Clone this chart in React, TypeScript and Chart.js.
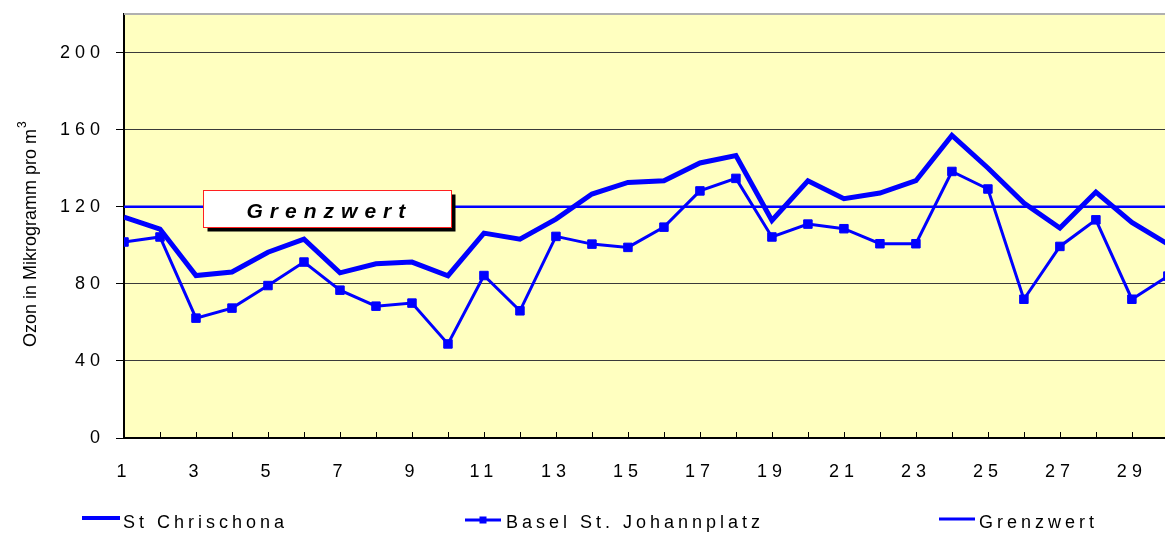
import React, { useEffect, useRef } from 'react';
import { Chart, registerables } from 'chart.js';

Chart.register(...registerables);

// ---------- data ----------
const days = [1, 2, 3, 4, 5, 6, 7, 8, 9, 10, 11, 12, 13, 14, 15, 16, 17, 18, 19, 20, 21, 22, 23, 24, 25, 26, 27, 28, 29, 30];
const stChrischona = [114.6, 108.4, 84.3, 86.1, 96.4, 103.2, 85.7, 90.4, 91.3, 84.2, 106.3, 103.2, 113.6, 126.6, 132.6, 133.5, 142.7, 146.5, 112.9, 133.5, 124.2, 127.1, 133.5, 157, 140.1, 121.9, 108.9, 127.6, 111.9, 100.6];
const baselStJohannplatz = [101.7, 104.3, 62.2, 67.4, 79.1, 91.3, 76.7, 68.4, 70, 48.8, 84.3, 66, 104.6, 100.6, 98.9, 109.4, 128.2, 134.7, 104.3, 111, 108.6, 100.8, 100.8, 138.3, 129.2, 72, 99.4, 113.2, 72, 84];
const grenzwert = [120, 120, 120, 120, 120, 120, 120, 120, 120, 120, 120, 120, 120, 120, 120, 120, 120, 120, 120, 120, 120, 120, 120, 120, 120, 120, 120, 120, 120, 120];
const yTickValues = [0, 40, 80, 120, 160, 200];
const seriesNames = ['St Chrischona', 'Basel St. Johannplatz', 'Grenzwert'];
const annotationLabel = 'Grenzwert';
const annotationValue = 120;
const axisTitleMain = 'Ozon in Mikrogramm pro m';
const axisTitleSup = '3';

// ---------- styles ----------
const BLUE = '#0000FF';
const FONT = '"Liberation Sans", Arial, Helvetica, sans-serif';
const W = 1165;
const H = 534;

const setSpacing = (ctx: any, v: string) => {
  try { ctx.letterSpacing = v; } catch (e) { /* ignore */ }
};

const decorPlugin = {
  id: 'decor',
  beforeUpdate(chart: any) {
    setSpacing(chart.ctx, '5px');
  },
  beforeDraw(chart: any) {
    const { ctx, chartArea: a } = chart;
    ctx.save();
    ctx.fillStyle = '#FFFFC0';
    ctx.fillRect(a.left, a.top, a.right - a.left, a.bottom - a.top);
    ctx.restore();
    setSpacing(ctx, '5px');
  },
  afterDatasetsDraw(chart: any) {
    const { ctx, chartArea: a, scales } = chart;
    const xs = scales.x;
    const ys = scales.y;
    ctx.save();
    // top border
    ctx.strokeStyle = '#B0B0B0';
    ctx.lineWidth = 2;
    ctx.beginPath();
    ctx.moveTo(a.left, a.top);
    ctx.lineTo(a.right, a.top);
    ctx.stroke();
    // inner tick marks on x axis
    ctx.strokeStyle = '#000';
    ctx.lineWidth = 1;
    xs.ticks.forEach((t: any) => {
      const px = Math.round(xs.getPixelForValue(t.value)) + 0.5;
      ctx.beginPath();
      ctx.moveTo(px, a.bottom);
      ctx.lineTo(px, a.bottom - 6);
      ctx.stroke();
    });
    // annotation box on the limit line
    const cx = xs.getPixelForValue(6.65);
    const cy = ys.getPixelForValue(annotationValue);
    const bw = 248;
    const bh = 37;
    const left = Math.round(cx - bw / 2) + 0.5;
    const top = Math.round(cy - 17) + 0.5;
    ctx.fillStyle = '#000';
    ctx.fillRect(left + 4, top + 4, bw, bh);
    ctx.fillStyle = '#FFFFFF';
    ctx.fillRect(left, top, bw, bh);
    ctx.strokeStyle = '#FF2020';
    ctx.lineWidth = 1;
    ctx.strokeRect(left, top, bw, bh);
    ctx.fillStyle = '#000';
    ctx.font = 'italic bold 21px ' + FONT;
    setSpacing(ctx, '7px');
    ctx.textAlign = 'center';
    ctx.textBaseline = 'middle';
    ctx.fillText(annotationLabel, cx + 2, top + bh / 2 + 3);
    ctx.restore();
    setSpacing(ctx, '5px');
  },
  afterDraw(chart: any) {
    const { ctx } = chart;
    ctx.save();
    // y axis title (rotated)
    setSpacing(ctx, '0px');
    ctx.fillStyle = '#000';
    ctx.translate(36, 347);
    ctx.rotate(-Math.PI / 2);
    ctx.textAlign = 'left';
    ctx.textBaseline = 'alphabetic';
    ctx.font = '18px ' + FONT;
    ctx.fillText(axisTitleMain, 0, 0);
    const tw = ctx.measureText(axisTitleMain).width;
    ctx.font = '12px ' + FONT;
    ctx.fillText(axisTitleSup, tw + 1, -10);
    ctx.restore();

    // legend
    ctx.save();
    ctx.font = '18px ' + FONT;
    setSpacing(ctx, '4px');
    ctx.fillStyle = '#000';
    ctx.textAlign = 'left';
    ctx.textBaseline = 'middle';
    ctx.strokeStyle = BLUE;
    ctx.lineCap = 'butt';
    // item 1
    ctx.lineWidth = 4;
    ctx.beginPath();
    ctx.moveTo(82, 518);
    ctx.lineTo(120, 518);
    ctx.stroke();
    ctx.fillText(seriesNames[0], 123, 523);
    // item 2
    ctx.lineWidth = 3;
    ctx.beginPath();
    ctx.moveTo(465, 520);
    ctx.lineTo(501, 520);
    ctx.stroke();
    ctx.fillStyle = BLUE;
    ctx.fillRect(479.5, 516.5, 7, 7);
    ctx.fillStyle = '#000';
    ctx.fillText(seriesNames[1], 506, 523);
    // item 3
    ctx.lineWidth = 3;
    ctx.beginPath();
    ctx.moveTo(939, 519);
    ctx.lineTo(975, 519);
    ctx.stroke();
    ctx.fillText(seriesNames[2], 979, 523);
    ctx.restore();
    setSpacing(ctx, '5px');
  },
};

export default function App() {
  const ref = useRef<HTMLCanvasElement | null>(null);

  useEffect(() => {
    const canvas = ref.current;
    if (!canvas) return;
    const toPoints = (arr: number[]) => arr.map((v, i) => ({ x: days[i], y: v }));
    const chart = new Chart(canvas, {
      type: 'line',
      data: {
        datasets: [
          {
            label: seriesNames[0],
            data: toPoints(stChrischona),
            borderColor: BLUE,
            backgroundColor: BLUE,
            borderWidth: 5,
            pointRadius: 0,
            tension: 0,
            borderJoinStyle: 'miter',
          },
          {
            label: seriesNames[1],
            data: toPoints(baselStJohannplatz),
            borderColor: BLUE,
            backgroundColor: BLUE,
            borderWidth: 3,
            pointStyle: 'rect',
            pointRadius: 6,
            pointBorderWidth: 1,
            pointBackgroundColor: BLUE,
            pointBorderColor: BLUE,
            tension: 0,
          },
          {
            label: seriesNames[2],
            data: toPoints(grenzwert),
            borderColor: BLUE,
            backgroundColor: BLUE,
            borderWidth: 2.5,
            pointRadius: 0,
            tension: 0,
          },
        ],
      },
      options: {
        responsive: false,
        animation: false,
        devicePixelRatio: 1,
        layout: { autoPadding: false, padding: { top: 14, left: 0, right: 0, bottom: 0 } },
        plugins: {
          legend: { display: false },
          tooltip: { enabled: false },
          title: { display: false },
        },
        scales: {
          x: {
            type: 'linear',
            min: 1,
            max: 29.92,
            afterBuildTicks: (scale: any) => {
              scale.ticks = days.filter((d) => d <= 29.92).map((d) => ({ value: d }));
            },
            afterFit: (scale: any) => {
              scale.height = 96;
              scale.paddingLeft = 0;
              scale.paddingRight = 0;
            },
            grid: { display: false, drawTicks: false },
            border: { display: true, color: '#000', width: 2 },
            ticks: {
              autoSkip: false,
              maxRotation: 0,
              minRotation: 0,
              padding: 23,
              color: '#000',
              font: { family: FONT, size: 18 },
              callback: (v: any) => (Number(v) % 2 === 1 ? String(v) : ''),
            },
          },
          y: {
            type: 'linear',
            min: 0,
            max: 220,
            afterBuildTicks: (scale: any) => {
              scale.ticks = yTickValues.map((v) => ({ value: v }));
            },
            afterFit: (scale: any) => {
              scale.width = 124;
              scale.paddingTop = 0;
              scale.paddingBottom = 0;
            },
            grid: {
              color: '#3A3A3A',
              lineWidth: 1,
              drawTicks: true,
              tickLength: 8,
              tickColor: '#000',
            },
            border: { display: true, color: '#000', width: 2 },
            ticks: {
              padding: 11,
              color: '#000',
              font: { family: FONT, size: 18 },
              callback: (v: any) => String(v),
            },
          },
        },
      },
      plugins: [decorPlugin],
    } as any);
    return () => chart.destroy();
  }, []);

  return (
    <div style={{ position: 'fixed', left: 0, top: 0, width: W, height: H, background: '#fff' }}>
      <canvas ref={ref} width={W} height={H} style={{ display: 'block', width: W, height: H }} />
    </div>
  );
}
